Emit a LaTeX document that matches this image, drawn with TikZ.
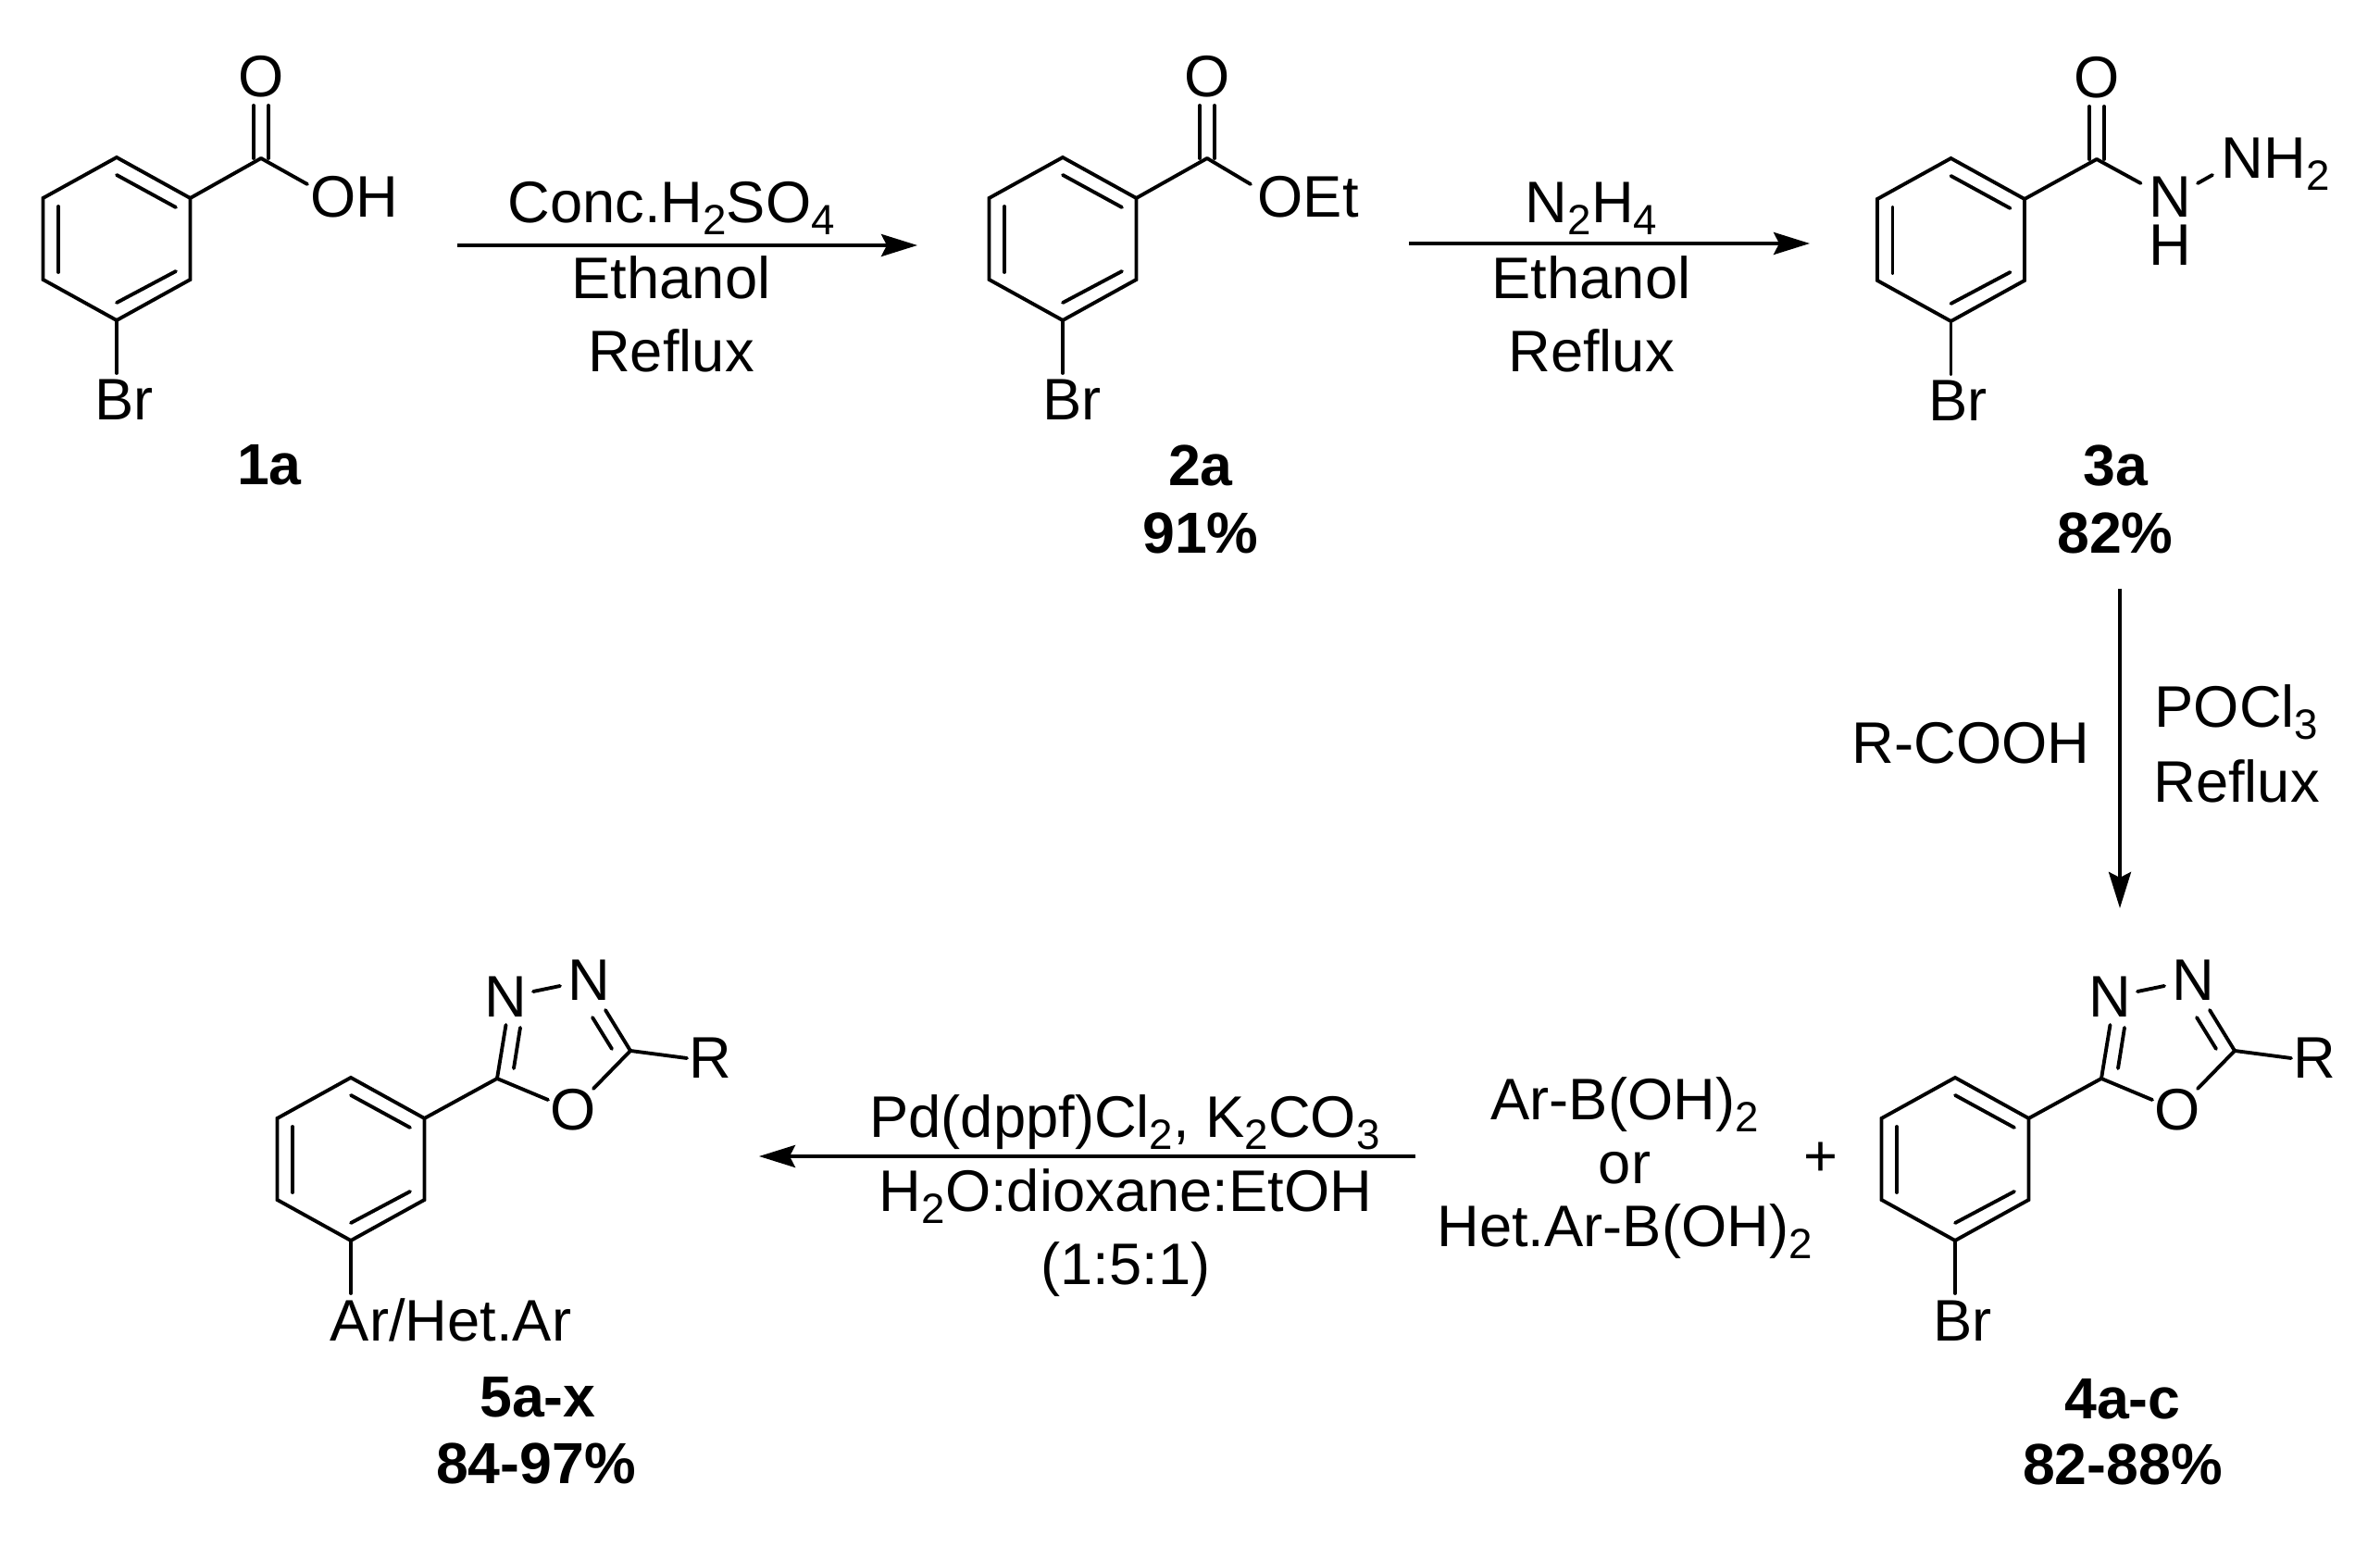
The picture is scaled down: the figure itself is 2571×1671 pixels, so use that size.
\documentclass[tikz,border=0pt]{standalone}
\usepackage{fontspec}
\setmainfont{Liberation Sans}
\usetikzlibrary{arrows.meta}
\newcommand{\chemsub}[1]{\raisebox{-0.13cm}{\fontsize{13}{13}\selectfont #1}}
\tikzset{
  bond/.style={line width=1.1pt,line cap=round,line join=miter,black},
  lbl/.style={font=\fontsize{18}{18}\selectfont,anchor=base,inner sep=0pt,text=black},
  lblw/.style={lbl,anchor=base west},
  blbl/.style={font=\fontsize{17.8}{18}\selectfont\bfseries,anchor=base,inner sep=0pt,text=black},
  rxn/.style={line width=1.1pt,black,-{Stealth[length=0.39cm,width=0.24cm,inset=0.06cm]}}
}
% benzene ring: prefix, centre x, top y
\newcommand{\benzenering}[3]{
  \begin{scope}[shift={(#2,#3)}]
    \coordinate (#1t) at (0,0);
    \coordinate (#1ur) at (79.5,44);
    \coordinate (#1lr) at (79.5,132);
    \coordinate (#1b) at (0,176);
    \coordinate (#1ll) at (-79.5,132);
    \coordinate (#1ul) at (-79.5,44);
    \coordinate (#1ia) at (0,19);
    \coordinate (#1ib) at (64,54);
    \coordinate (#1ic) at (-63,53);
    \coordinate (#1id) at (-63,124);
    \coordinate (#1ie) at (0,157);
    \coordinate (#1if) at (64,123);
    \coordinate (#1sub) at (0,233);
  \end{scope}
  \draw[bond] (#1t) -- (#1ur) -- (#1lr) -- (#1b) -- (#1ll) -- (#1ul) -- cycle;
  \draw[bond] (#1ia) -- (#1ib);
  \draw[bond] (#1ic) -- (#1id);
  \draw[bond] (#1ie) -- (#1if);
  \draw[bond] (#1b) -- (#1sub);
}
% carbonyl on ring: prefix, x of carbonyl C, y of carbonyl C
\newcommand{\carbonyl}[4]{
  \begin{scope}[shift={(#2,#3)}]
    \coordinate (#1c) at (0,0);
    \coordinate (#1ca) at (-8,0);
    \coordinate (#1cb) at (8,0);
    \coordinate (#1oa) at (-8,-57);
    \coordinate (#1ob) at (8,-57);
    \node[lbl] (#1o) at (0,-66) {O};
  \end{scope}
  \draw[bond] (#4ur) -- (#1c);
  \draw[bond] (#1ca) -- (#1oa);
  \draw[bond] (#1cb) -- (#1ob);
}
% oxadiazole on ring: prefix, shift x
\newcommand{\oxadiazole}[3]{
  \begin{scope}[shift={(#2,0)}]
    \coordinate (#1c5) at (2270,1165);
    \coordinate (#1dbA) at (2279.5,1107);
    \coordinate (#1iA) at (2288,1154);
    \coordinate (#1iB) at (2295,1110);
    \coordinate (#1nnA) at (2309,1071);
    \coordinate (#1nnB) at (2338,1065);
    \coordinate (#1dbB) at (2387,1091);
    \coordinate (#1c2) at (2414,1135);
    \coordinate (#1iC) at (2373,1099);
    \coordinate (#1iD) at (2394,1133);
    \coordinate (#1rb) at (2475,1143);
    \coordinate (#1oa) at (2374,1176);
    \coordinate (#1ob) at (2325,1188);
    \node[lbl] (#1n1) at (2279,1099) {N};
    \node[lbl] (#1n2) at (2369,1081) {N};
    \node[lbl] (#1o) at (2352,1221) {O};
    \node[lbl] (#1r) at (2500,1165) {R};
  \end{scope}
  \draw[bond] (#3ur) -- (#1c5);
  \draw[bond] (#1c5) -- (#1dbA);
  \draw[bond] (#1iA) -- (#1iB);
  \draw[bond] (#1nnA) -- (#1nnB);
  \draw[bond] (#1dbB) -- (#1c2);
  \draw[bond] (#1iC) -- (#1iD);
  \draw[bond] (#1c2) -- (#1rb);
  \draw[bond] (#1c2) -- (#1oa);
  \draw[bond] (#1c5) -- (#1ob);
}
\begin{document}
\begin{tikzpicture}[x=0.01cm,y=-0.01cm]
\useasboundingbox (0,0) rectangle (2571,1671);

% 1a
\benzenering{A}{126}{170}
\carbonyl{Ao}{282}{171}{A}
\coordinate (Aoh) at (332,199);
\draw[bond] (Aoc) -- (Aoh);
\node[lbl] (Aohl) at (383,235) {OH};
\node[lbl] (Abr) at (134,454) {Br};
\node[blbl] (la) at (291,524) {1a};

% 2a
\benzenering{B}{1148}{170}
\carbonyl{Bo}{1304}{171}{B}
\coordinate (Boh) at (1351,199);
\draw[bond] (Boc) -- (Boh);
\node[lblw] (Boet) at (1358,235) {OEt};
\node[lbl] (Bbr) at (1158,454) {Br};
\node[blbl] (lb) at (1297,525) {2a};
\node[blbl] (lby) at (1297,598) {91\%};

% 3a
\benzenering{C}{2107.5}{171}
\carbonyl{Co}{2265}{172}{C}
\coordinate (Cna) at (2312.5,198);
\coordinate (Cnb) at (2374,198);
\coordinate (Cnc) at (2390,189);
\draw[bond] (Coc) -- (Cna);
\draw[bond] (Cnb) -- (Cnc);
\node[lbl] (Cn) at (2344,235) {N};
\node[lbl] (Ch) at (2344,287) {H};
\node[lblw] (Cnh) at (2399,193) {NH\chemsub{2}};
\node[lbl] (Cbr) at (2115,455) {Br};
\node[blbl] (lc) at (2285,525) {3a};
\node[blbl] (lcy) at (2285,598) {82\%};

% 4a-c
\benzenering{D}{2112}{1164}
\oxadiazole{Dx}{0}{D}
\node[lbl] (Dbr) at (2120,1449) {Br};
\node[blbl] (ld) at (2293,1533) {4a-c};
\node[blbl] (ldy) at (2293,1604) {82-88\%};

% 5a-x
\benzenering{E}{379}{1164}
\oxadiazole{Ex}{-1733}{E}
\node[lbl] (Ear) at (487,1449) {Ar/Het.Ar};
\node[blbl] (le) at (581,1531) {5a-x};
\node[blbl] (ley) at (579,1603) {84-97\%};

% arrow 1
\coordinate (a1s) at (494,265);
\coordinate (a1e) at (991,265);
\draw[rxn] (a1s) -- (a1e);
\node[lbl] (a1a) at (725,241) {Conc.H\chemsub{2}SO\chemsub{4}};
\node[lbl] (a1b) at (725,323) {Ethanol};
\node[lbl] (a1c) at (725,402) {Reflux};

% arrow 2
\coordinate (a2s) at (1522,263);
\coordinate (a2e) at (1955,263);
\draw[rxn] (a2s) -- (a2e);
\node[lbl] (a2a) at (1719,241) {N\chemsub{2}H\chemsub{4}};
\node[lbl] (a2b) at (1719,323) {Ethanol};
\node[lbl] (a2c) at (1719,402) {Reflux};

% arrow 3
\coordinate (a3s) at (2290,636);
\coordinate (a3e) at (2290,981);
\draw[rxn] (a3s) -- (a3e);
\node[lbl] (a3a) at (2129,825) {R-COOH};
\node[lbl] (a3b) at (2416,786) {POCl\chemsub{3}};
\node[lbl] (a3c) at (2416,867) {Reflux};

% arrow 4
\coordinate (a4s) at (1529,1249);
\coordinate (a4e) at (820,1249);
\draw[rxn] (a4s) -- (a4e);
\node[lbl] (a4a) at (1215,1229) {Pd(dppf)Cl\chemsub{2}, K\chemsub{2}CO\chemsub{3}};
\node[lbl] (a4b) at (1216,1309) {H\chemsub{2}O:dioxane:EtOH};
\node[lbl] (a4c) at (1216,1388) {(1:5:1)};

\node[lbl] (r1) at (1755,1210) {Ar-B(OH)\chemsub{2}};
\node[lbl] (r2) at (1755,1279) {or};
\node[lbl] (r3) at (1755,1347) {Het.Ar-B(OH)\chemsub{2}};
\node[lbl] (plus) at (1967,1271) {+};
\end{tikzpicture}
\end{document}
